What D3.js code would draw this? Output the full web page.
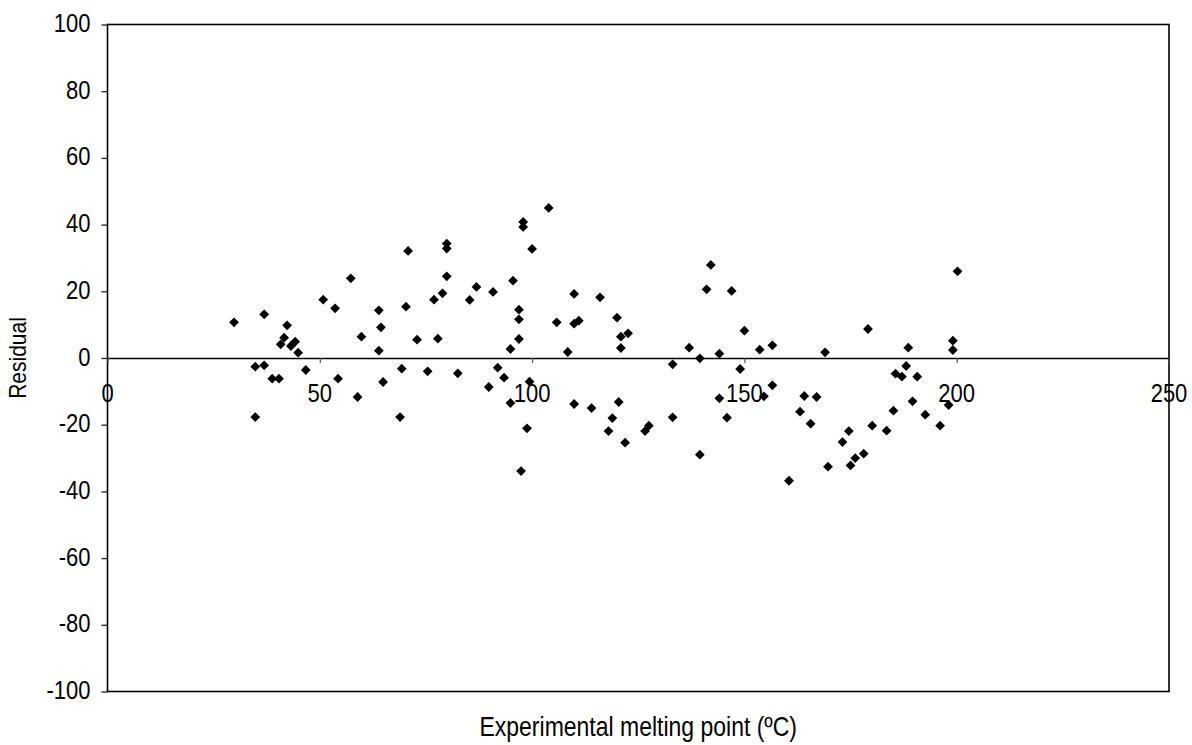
<!DOCTYPE html>
<html>
<head>
<meta charset="utf-8">
<script src="https://cdn.jsdelivr.net/npm/d3@7"></script>
<style>
  body { margin: 0; background: #fff; }
  text { font-family: "Liberation Sans", Arial, sans-serif; fill: #000; }
</style>
</head>
<body>
<svg id="chart" width="1192" height="745"></svg>
<script>
// Experimental melting point (ºC) of each compound
const meltingPoint = [
  29.8, 34.8, 34.8, 36.9, 36.9, 38.8, 40.4, 40.8, 41.6, 42.3, 43.2, 44.2, 44.9, 46.7,
  50.8, 53.6, 54.3, 57.3, 58.9, 59.8,
  63.9, 64.4, 63.9, 64.9, 68.9, 69.3, 70.3, 70.8, 72.9, 75.4, 76.9, 77.8, 78.9, 79.9,
  79.9, 79.9, 82.5, 85.3, 86.9, 89.8, 90.8, 91.9, 93.4, 94.9, 94.9, 95.5, 96.9, 96.9,
  96.9, 97.4, 97.9, 97.9, 98.8, 99.4, 100.0,
  103.9, 105.8, 108.4, 109.9, 109.9, 109.9, 111.0, 114.0, 116.0, 118.0, 118.9, 120.0,
  120.4, 120.9, 120.9, 121.9, 122.6, 126.6, 127.5, 133.1, 133.1,
  137.0, 139.5, 139.5, 141.1, 142.1, 144.1, 144.1, 145.9, 147.0, 149.0, 150.0, 153.6,
  154.6, 156.6, 156.6, 160.5, 163.1, 164.1, 165.6, 167.0, 169.0, 169.7,
  173.1, 174.6, 175.0, 176.1, 178.1, 179.1, 180.1, 183.5, 185.1, 185.6, 187.1, 188.1,
  188.6, 189.6, 190.7, 192.6, 196.1, 198.1, 199.1, 199.1, 200.2
];

// Residual (predicted minus experimental) for the same compounds
const residual = [
  10.7, -2.6, -17.7, 13.1, -2.2, -6.2, -6.2, 4.1, 6.1, 9.8, 3.6, 4.9, 1.6, -3.6,
  17.5, 14.9, -6.2, 23.9, -11.7, 6.4,
  14.3, 9.2, 2.2, -7.2, -17.7, -3.2, 15.4, 32.1, 5.5, -4.0, 17.5, 5.8, 19.4, 24.5,
  34.3, 32.8, -4.6, 17.4, 21.3, -8.7, 19.8, -2.9, -5.9, -13.5, 2.7, 23.2, 14.5, 11.6,
  5.7, -33.9, 40.8, 39.3, -21.1, -7.1, 32.7,
  45.0, 10.7, 1.8, 19.2, 10.3, -13.8, 11.2, -15.0, 18.2, -21.9, -18.0, 12.1,
  -13.2, 6.4, 3.0, -25.4, 7.4, -21.9, -20.3, -1.9, -17.8,
  3.1, -0.1, -29.0, 20.6, 27.9, 1.3, -12.1, -17.9, 20.1, -3.3, 8.2, 2.5,
  -11.5, 3.8, -8.2, -36.8, -16.1, -11.4, -19.7, -11.7, 1.7, -32.6,
  -25.2, -21.9, -32.2, -30.0, -28.7, 8.7, -20.3, -21.8, -15.8, -4.7, -5.6, -2.4,
  3.1, -13.0, -5.6, -17.0, -20.3, -14.1, 5.2, 2.4, 26.0
];

const xTicks = [0, 50, 100, 150, 200, 250];
const yTicks = [-100, -80, -60, -40, -20, 0, 20, 40, 60, 80, 100];
const xTitle = "Experimental melting point (ºC)";
const yTitle = "Residual";

const W = 1192, H = 745;
const plot = { left: 107.5, right: 1169, top: 24.5, bottom: 691.5 };
const fontSize = 22;
const stretch = 1.17;   // glyphs are drawn a little taller than wide

const svg = d3.select("#chart");

const x = d3.scaleLinear().domain([0, 250]).range([plot.left, plot.right]);
const y = d3.scaleLinear().domain([-100, 100]).range([plot.bottom, plot.top]);

// Plot frame
svg.append("rect")
  .attr("x", plot.left).attr("y", plot.top)
  .attr("width", plot.right - plot.left).attr("height", plot.bottom - plot.top)
  .attr("fill", "none").attr("stroke", "#000").attr("stroke-width", 1.6);

// Y axis: ticks outside the left edge
const yAxis = svg.append("g")
  .attr("transform", `translate(${plot.left},0)`)
  .call(d3.axisLeft(y).tickValues(yTicks).tickSize(6).tickFormat(""));
yAxis.select(".domain").remove();
yAxis.selectAll(".tick line").attr("stroke", "#222").attr("stroke-width", 1.3);

svg.append("g").selectAll("g")
  .data(yTicks)
  .join("g")
  .attr("transform", d => `translate(${plot.left - 17},${y(d) + 7.5}) scale(1,${stretch})`)
  .append("text")
  .attr("text-anchor", "end")
  .style("font-size", fontSize + "px")
  .text(d => d);

// X axis along the zero line, ticks pointing down
const xAxis = svg.append("g")
  .attr("transform", `translate(0,${y(0)})`)
  .call(d3.axisBottom(x).tickValues(xTicks).tickSize(5).tickSizeOuter(0).tickFormat(""));
xAxis.select(".domain").attr("stroke", "#000").attr("stroke-width", 1.5);
xAxis.selectAll(".tick line").attr("stroke", "#555").attr("stroke-width", 1.2);

svg.append("g").selectAll("g")
  .data(xTicks)
  .join("g")
  .attr("transform", d => `translate(${x(d)},${y(0) + 44}) scale(1,${stretch})`)
  .append("text")
  .attr("text-anchor", "middle")
  .style("font-size", fontSize + "px")
  .text(d => d);

// Axis titles
svg.append("g")
  .attr("transform", `translate(${(plot.left + plot.right) / 2},${H - 9}) scale(1,${stretch})`)
  .append("text")
  .attr("text-anchor", "middle")
  .style("font-size", "23px")
  .text(xTitle);

svg.append("g")
  .attr("transform", `translate(26,${y(0)}) rotate(-90) scale(1,${stretch})`)
  .append("text")
  .attr("text-anchor", "middle")
  .style("font-size", "21px")
  .text(yTitle);

// Data points as black diamonds
const diamond = d3.symbol().type(d3.symbolSquare).size(48);
svg.append("g").selectAll("path")
  .data(meltingPoint.map((m, i) => [m, residual[i]]))
  .join("path")
  .attr("d", diamond)
  .attr("transform", d => `translate(${x(d[0])},${y(d[1])}) rotate(45)`)
  .attr("fill", "#000");
</script>
</body>
</html>
